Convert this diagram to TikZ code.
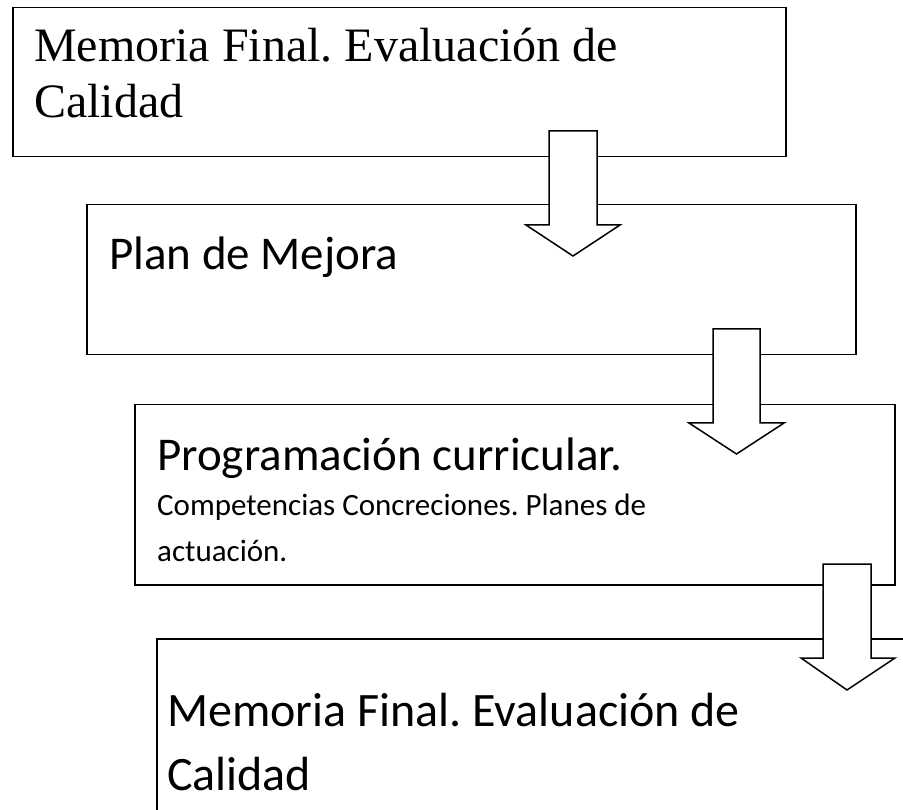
\documentclass[tikz,border=0pt]{standalone}
\usepackage{fontspec}
\setmainfont{Carlito}
\newfontfamily\tnr{Liberation Serif}
\frenchspacing
\begin{document}
\begin{tikzpicture}[x=1pt,y=-1pt,
  boxst/.style={draw=black,fill=white,line width=1.5pt,rectangle,inner sep=0pt,anchor=north west},
  arrowst/.style={draw=black,fill=white,line width=1.5pt,line join=miter},
  txt/.style={anchor=base west,inner sep=0pt,text=black}]
\useasboundingbox (0,0) rectangle (903,810);
\clip (0,0) rectangle (903,810);
\fill[white] (0,0) rectangle (903,810);
% boxes
\node[boxst,minimum width=773pt,minimum height=149pt] (b1) at (12,7) {};
\node[boxst,minimum width=769pt,minimum height=150pt] (b2) at (86,204) {};
\node[boxst,minimum width=760pt,minimum height=180pt] (b3) at (134,404) {};
\node[boxst,minimum width=780pt,minimum height=200pt] (b4) at (156,638) {};
% texts
\node[txt] (t1a) at (34,62) {\tnr\frenchspacing\fontsize{48}{56}\selectfont Memoria Final. Evaluación de};
\node[txt] (t1b) at (34,118) {\tnr\fontsize{48}{56}\selectfont Calidad};
\node[txt] (t2) at (109,270) {\fontsize{47}{57}\selectfont Plan de Mejora};
\node[txt] (t3a) at (157,470) {\fontsize{47}{57}\selectfont Programación curricular.};
\node[txt] (t3b) at (157,515) {\frenchspacing\fontsize{31}{37}\selectfont Competencias Concreciones. Planes de};
\node[txt] (t3c) at (157,561) {\fontsize{31}{37}\selectfont actuación.};
\node[txt] (t4a) at (167,726) {\frenchspacing\fontsize{48}{58}\selectfont Memoria Final. Evaluación de};
\node[txt] (t4b) at (167,790) {\fontsize{48}{58}\selectfont Calidad};
% block arrows
\draw[arrowst] (549,131) -- (597,131) -- (597,225) -- (620,225) -- (573,256) -- (526,225) -- (549,225) -- cycle;
\draw[arrowst] (713,329) -- (760,329) -- (760,423) -- (784,423) -- (736.5,454) -- (689,423) -- (713,423) -- cycle;
\draw[arrowst] (823,564) -- (871,564) -- (871,658) -- (895,658) -- (847,690) -- (801,658) -- (823,658) -- cycle;
\end{tikzpicture}
\end{document}
